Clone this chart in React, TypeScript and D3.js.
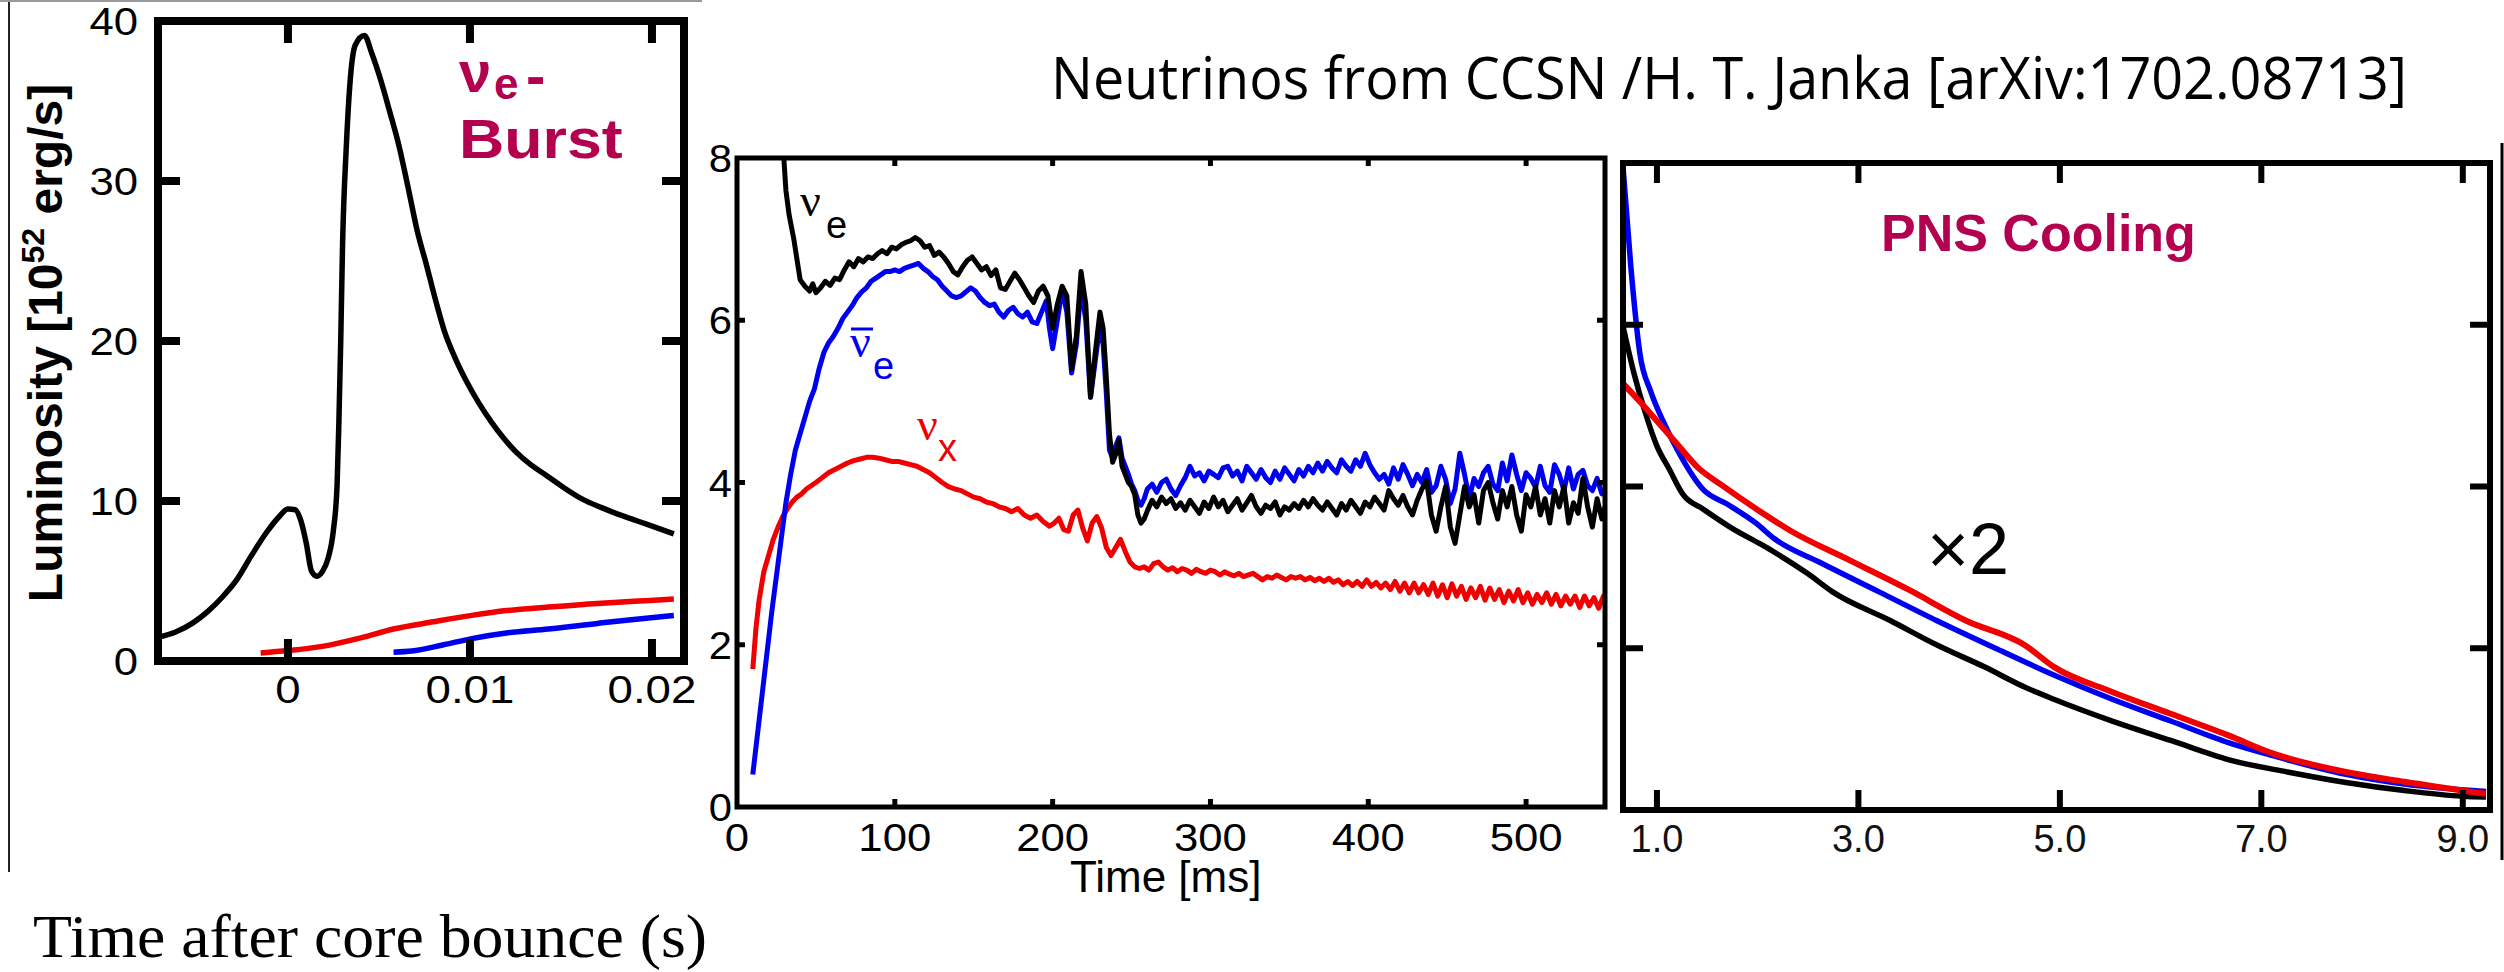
import React from "react";
import * as d3 from "d3";

// ---------- Panel 1: neutronization burst (time in s, luminosity 1e52 erg/s)
const burstNuE: [number, number][] = [
  [-0.0071, 1.5], [-0.0062, 1.8], [-0.0052, 2.4], [-0.0044, 3.1], [-0.0036, 4.0], [-0.0028, 5.1],
  [-0.002, 6.6], [-0.0012, 8.0], [-0.0005, 9.0], [0.0, 9.5], [0.0004, 9.45], [0.0007, 8.8],
  [0.001, 7.4], [0.0013, 5.6], [0.0016, 5.3], [0.0019, 5.6], [0.0022, 6.4], [0.0025, 8.2],
  [0.0027, 11], [0.0028, 15], [0.0029, 20], [0.003, 26], [0.0032, 32], [0.0034, 36],
  [0.0037, 38.5], [0.0042, 39.1], [0.0046, 38.0], [0.0051, 36.3], [0.0056, 34.3], [0.0061, 32.2],
  [0.0066, 29.6], [0.0071, 26.9], [0.0076, 24.8], [0.0081, 22.6], [0.0086, 20.6], [0.0092, 18.9],
  [0.0098, 17.5], [0.0105, 16.1], [0.0112, 14.9], [0.0118, 14.0], [0.0125, 13.1], [0.0133, 12.3],
  [0.0142, 11.6], [0.0152, 10.8], [0.0162, 10.1], [0.0172, 9.6], [0.0182, 9.15], [0.0192, 8.75],
  [0.0202, 8.35], [0.0212, 7.95],
];
const burstNuX: [number, number][] = [
  [-0.0015, 0.5], [0.0, 0.65], [0.0018, 0.9], [0.004, 1.45], [0.0058, 2.0], [0.008, 2.45],
  [0.0101, 2.85], [0.012, 3.15], [0.0143, 3.37], [0.017, 3.6], [0.019, 3.73], [0.0212, 3.87],
];
const burstNuEbar: [number, number][] = [
  [0.0058, 0.55], [0.0068, 0.62], [0.0085, 1.0], [0.0101, 1.4], [0.012, 1.75], [0.0143, 2.0],
  [0.017, 2.35], [0.019, 2.6], [0.0212, 2.85],
];
const p1XTicks = [0, 0.01, 0.02];
const p1XLabels = ["0", "0.01", "0.02"];
const p1YTicks = [0, 10, 20, 30, 40];

// ---------- Panel 2: accretion phase (time in ms)
const accNuE: [number, number][] = [
  [29, 8.2], [31, 7.6], [33, 7.3], [36, 7.0], [38, 6.75], [40, 6.5], [43, 6.42], [46, 6.36], [48, 6.45],
  [50, 6.34], [53, 6.4], [56, 6.48], [59, 6.43], [62, 6.52], [65, 6.5], [68, 6.62], [71, 6.72], [74, 6.66],
  [77, 6.76], [80, 6.72], [83, 6.78], [86, 6.76], [89, 6.82], [92, 6.86], [95, 6.82], [98, 6.9], [101, 6.88],
  [104, 6.93], [107, 6.96], [110, 6.98], [113, 7.02], [116, 6.98], [119, 6.9], [122, 6.92], [125, 6.8],
  [128, 6.84], [131, 6.78], [134, 6.7], [137, 6.6], [140, 6.56], [143, 6.66], [146, 6.74], [149, 6.78],
  [152, 6.7], [155, 6.62], [158, 6.66], [161, 6.55], [164, 6.62], [167, 6.4], [170, 6.38], [173, 6.48],
  [176, 6.58], [179, 6.5], [182, 6.4], [185, 6.3], [188, 6.22], [191, 6.36], [194, 6.42], [197, 6.3],
  [200, 5.9], [203, 6.2], [206, 6.42], [209, 6.3], [212, 5.4], [215, 5.8], [218, 6.6], [221, 6.2],
  [224, 5.05], [227, 5.6], [230, 6.1], [232, 5.9], [234, 5.3], [236, 4.6], [238, 4.25], [240, 4.35],
  [242, 4.52], [244, 4.2], [246, 4.1], [248, 4.0], [250, 3.95], [252, 3.85], [254, 3.6], [256, 3.5],
  [258, 3.55], [260, 3.65], [263, 3.78], [266, 3.7], [269, 3.82], [272, 3.74], [275, 3.8], [278, 3.68],
  [281, 3.75], [284, 3.66], [287, 3.78], [290, 3.7], [293, 3.62], [296, 3.76], [299, 3.68], [302, 3.82],
  [305, 3.7], [308, 3.78], [311, 3.64], [314, 3.72], [317, 3.8], [320, 3.66], [323, 3.75], [326, 3.84],
  [329, 3.7], [332, 3.62], [335, 3.72], [338, 3.68], [341, 3.76], [344, 3.6], [347, 3.7], [350, 3.66],
  [353, 3.74], [356, 3.68], [359, 3.78], [362, 3.7], [365, 3.8], [368, 3.72], [371, 3.66], [374, 3.76],
  [377, 3.68], [380, 3.6], [383, 3.74], [386, 3.66], [389, 3.78], [392, 3.7], [395, 3.62], [398, 3.76],
  [401, 3.7], [404, 3.82], [407, 3.74], [410, 3.66], [413, 3.9], [416, 3.8], [419, 3.72], [422, 3.84],
  [425, 3.7], [428, 3.6], [431, 3.78], [434, 3.92], [437, 4.02], [440, 3.6], [443, 3.4], [446, 3.7],
  [449, 3.95], [452, 3.45], [455, 3.25], [458, 3.6], [461, 3.95], [464, 3.7], [467, 3.85], [470, 3.5],
  [473, 3.9], [476, 4.0], [479, 3.75], [482, 3.55], [485, 3.9], [488, 3.7], [491, 3.95], [494, 3.6],
  [497, 3.4], [500, 3.85], [503, 3.7], [506, 3.95], [509, 3.6], [512, 3.8], [515, 3.5], [518, 3.9],
  [521, 3.7], [524, 3.95], [527, 3.5], [530, 3.75], [533, 3.62], [536, 4.05], [539, 3.7], [542, 3.45],
  [545, 3.8], [548, 3.55], [550, 3.7],
];
const accNuEbar: [number, number][] = [
  [10, 0.4], [13, 0.9], [16, 1.4], [19, 1.9], [22, 2.4], [25, 2.85], [28, 3.3], [31, 3.75], [34, 4.1],
  [37, 4.4], [40, 4.6], [43, 4.8], [46, 5.0], [49, 5.15], [52, 5.4], [55, 5.6], [58, 5.72], [61, 5.8],
  [64, 5.9], [67, 6.02], [70, 6.1], [73, 6.18], [76, 6.28], [79, 6.35], [82, 6.4], [85, 6.48], [88, 6.52],
  [91, 6.56], [94, 6.6], [97, 6.6], [100, 6.62], [103, 6.6], [106, 6.64], [109, 6.66], [112, 6.68],
  [115, 6.7], [118, 6.64], [121, 6.6], [124, 6.54], [127, 6.5], [130, 6.42], [133, 6.36], [136, 6.3],
  [139, 6.28], [142, 6.3], [145, 6.35], [148, 6.4], [151, 6.36], [154, 6.28], [157, 6.22], [160, 6.18],
  [163, 6.2], [166, 6.1], [169, 6.04], [172, 6.12], [175, 6.16], [178, 6.08], [181, 6.04], [184, 6.1],
  [187, 5.98], [190, 5.96], [193, 6.1], [196, 6.24], [198, 5.9], [200, 5.65], [203, 6.0], [206, 6.38],
  [209, 6.1], [212, 5.35], [215, 5.7], [218, 6.4], [221, 6.0], [224, 5.05], [227, 5.5], [230, 5.95],
  [232, 5.7], [234, 5.1], [236, 4.4], [238, 4.3], [240, 4.45], [242, 4.55], [244, 4.3], [246, 4.2],
  [248, 4.1], [250, 3.98], [252, 3.9], [254, 3.78], [256, 3.72], [258, 3.8], [260, 3.92], [263, 3.98],
  [266, 3.88], [269, 4.0], [272, 4.04], [275, 3.92], [278, 3.84], [281, 3.96], [284, 4.06], [287, 4.2],
  [290, 4.08], [293, 4.12], [296, 4.02], [299, 4.14], [302, 4.1], [305, 4.06], [308, 4.18], [311, 4.2],
  [314, 4.08], [317, 4.14], [320, 4.02], [323, 4.2], [326, 4.12], [329, 4.04], [332, 4.16], [335, 4.06],
  [338, 4.0], [341, 4.14], [344, 4.04], [347, 4.18], [350, 4.1], [353, 4.02], [356, 4.16], [359, 4.08],
  [362, 4.2], [365, 4.12], [368, 4.24], [371, 4.14], [374, 4.26], [377, 4.18], [380, 4.12], [383, 4.28],
  [386, 4.2], [389, 4.14], [392, 4.28], [395, 4.2], [398, 4.36], [401, 4.22], [404, 4.12], [407, 4.04],
  [410, 4.1], [413, 3.98], [416, 4.18], [419, 4.04], [422, 4.22], [425, 4.1], [428, 3.96], [431, 4.1],
  [434, 4.0], [437, 4.16], [440, 3.88], [443, 3.96], [446, 4.2], [449, 4.04], [452, 3.74], [455, 3.92],
  [458, 4.36], [461, 4.1], [464, 3.8], [467, 4.05], [470, 3.95], [473, 4.12], [476, 4.2], [479, 3.98],
  [482, 3.9], [485, 4.24], [488, 4.02], [491, 4.34], [494, 4.1], [497, 3.9], [500, 4.12], [503, 4.05],
  [506, 3.94], [509, 4.2], [512, 3.96], [515, 3.88], [518, 4.22], [521, 4.1], [524, 3.9], [527, 4.18],
  [530, 3.92], [533, 4.1], [536, 4.15], [539, 3.96], [542, 3.9], [545, 4.05], [548, 3.86], [550, 3.9],
];
const accNuX: [number, number][] = [
  [10, 1.7], [12, 2.2], [14, 2.55], [17, 2.9], [20, 3.1], [23, 3.3], [26, 3.45], [29, 3.58], [32, 3.68],
  [35, 3.76], [38, 3.82], [41, 3.86], [44, 3.92], [47, 3.96], [50, 4.0], [54, 4.06], [58, 4.12], [62, 4.16],
  [66, 4.2], [70, 4.24], [74, 4.27], [78, 4.29], [82, 4.31], [86, 4.31], [90, 4.3], [94, 4.28], [98, 4.26],
  [102, 4.26], [106, 4.24], [110, 4.22], [114, 4.2], [118, 4.16], [122, 4.12], [126, 4.06], [130, 4.0],
  [134, 3.95], [138, 3.92], [142, 3.9], [146, 3.86], [150, 3.82], [154, 3.8], [158, 3.76], [162, 3.74],
  [166, 3.7], [170, 3.68], [174, 3.64], [178, 3.68], [182, 3.6], [186, 3.56], [190, 3.6], [194, 3.52],
  [198, 3.46], [201, 3.5], [204, 3.56], [207, 3.42], [210, 3.4], [213, 3.6], [216, 3.66], [219, 3.44],
  [222, 3.28], [225, 3.5], [228, 3.58], [231, 3.44], [234, 3.2], [237, 3.1], [240, 3.2], [243, 3.3],
  [246, 3.15], [249, 3.02], [252, 2.96], [255, 2.94], [258, 2.96], [261, 2.92], [264, 3.0], [267, 3.02],
  [270, 2.96], [273, 2.92], [276, 2.95], [279, 2.9], [282, 2.94], [285, 2.92], [288, 2.88], [291, 2.93],
  [294, 2.9], [297, 2.88], [300, 2.92], [303, 2.9], [306, 2.86], [309, 2.9], [312, 2.87], [315, 2.85],
  [318, 2.88], [321, 2.84], [324, 2.86], [327, 2.88], [330, 2.84], [333, 2.8], [336, 2.84], [339, 2.82],
  [342, 2.86], [345, 2.83], [348, 2.8], [351, 2.84], [354, 2.82], [357, 2.84], [360, 2.8], [363, 2.83],
  [366, 2.79], [369, 2.82], [372, 2.78], [375, 2.82], [378, 2.77], [381, 2.8], [384, 2.74], [387, 2.78],
  [390, 2.73], [393, 2.78], [396, 2.72], [399, 2.8], [402, 2.72], [405, 2.77], [408, 2.7], [411, 2.76],
  [414, 2.68], [417, 2.78], [420, 2.66], [423, 2.76], [426, 2.64], [429, 2.76], [432, 2.64], [435, 2.74],
  [438, 2.62], [441, 2.76], [444, 2.6], [447, 2.74], [450, 2.58], [453, 2.75], [456, 2.6], [459, 2.72],
  [462, 2.56], [465, 2.7], [468, 2.58], [471, 2.72], [474, 2.55], [477, 2.7], [480, 2.56], [483, 2.68],
  [486, 2.52], [489, 2.66], [492, 2.54], [495, 2.68], [498, 2.52], [501, 2.64], [504, 2.5], [507, 2.62],
  [510, 2.52], [513, 2.64], [516, 2.5], [519, 2.62], [522, 2.48], [525, 2.6], [528, 2.5], [531, 2.6],
  [534, 2.46], [537, 2.6], [540, 2.48], [543, 2.58], [546, 2.45], [549, 2.6], [550, 2.58],
];
const p2XTicks = [0, 100, 200, 300, 400, 500];
const p2YTicks = [0, 2, 4, 6, 8];

// ---------- Panel 3: PNS cooling (time in s)
const coolNuE: [number, number][] = [
  [0.66, 6.0], [0.77, 5.41], [0.88, 4.93], [1.0, 4.5], [1.12, 4.22], [1.26, 3.9], [1.46, 3.72],
  [1.75, 3.48], [2.04, 3.28], [2.5, 2.92], [2.74, 2.7], [3.32, 2.34], [3.78, 2.04], [4.25, 1.77],
  [4.65, 1.52], [4.94, 1.37], [5.52, 1.1], [6.1, 0.86], [6.68, 0.62], [7.26, 0.47], [7.84, 0.34],
  [8.42, 0.24], [9.0, 0.17], [9.23, 0.16],
];
const coolNuEbar: [number, number][] = [
  [0.66, 8.0], [0.74, 6.73], [0.83, 5.65], [0.94, 5.17], [1.06, 4.81], [1.23, 4.39], [1.46, 3.96],
  [1.7, 3.78], [1.99, 3.54], [2.16, 3.36], [2.62, 3.06], [3.2, 2.7], [3.78, 2.34], [4.36, 2.0],
  [4.94, 1.67], [5.52, 1.37], [6.1, 1.1], [6.68, 0.83], [7.09, 0.68], [7.84, 0.44], [8.42, 0.32],
  [9.23, 0.23],
];
const coolNuX: [number, number][] = [
  [0.65, 5.29], [0.83, 5.05], [1.0, 4.81], [1.17, 4.57], [1.41, 4.23], [1.64, 4.02], [1.99, 3.72],
  [2.33, 3.45], [2.91, 3.09], [3.49, 2.73], [4.07, 2.34], [4.65, 2.04], [4.94, 1.77], [5.52, 1.46],
  [6.1, 1.19], [6.68, 0.92], [7.09, 0.71], [7.84, 0.47], [8.42, 0.35], [9.23, 0.2],
];
const p3XTicks = [1, 3, 5, 7, 9];
const p3XLabels = ["1.0", "3.0", "5.0", "7.0", "9.0"];
const p3YTicks = [0, 2, 4, 6, 8];

const TITLE = "Neutrinos from CCSN /H. T. Janka [arXiv:1702.08713]";
const XTITLE = "Time after core bounce (s)";

const SANS = "'Liberation Sans', Arial, sans-serif";
const SERIF = "'Liberation Serif', 'Times New Roman', serif";
const CRIMSON = "#b3004f";
const BLUE = "#0000f0";
const RED = "#f00000";

type Pt = [number, number];

function Frame({ x0, x1, y0, y1, sw }: { x0: number; x1: number; y0: number; y1: number; sw: number }) {
  return <rect x={x0} y={y0} width={x1 - x0} height={y1 - y0} fill="none" stroke="#000" strokeWidth={sw} />;
}

export default function App() {
  // panel 1
  const x1 = d3.scaleLinear().domain([-0.00714, 0.02176]).range([158, 684]);
  const y1 = d3.scaleLinear().domain([0, 40]).range([661, 21]);
  const line1 = d3.line<Pt>().x((d) => x1(d[0])).y((d) => y1(d[1])).curve(d3.curveMonotoneX);

  // panel 2
  const x2 = d3.scaleLinear().domain([0, 550]).range([737, 1605]);
  const y2 = d3.scaleLinear().domain([0, 8]).range([807, 158]);
  const line2 = d3.line<Pt>().x((d) => x2(d[0])).y((d) => y2(d[1]));

  // panel 3
  const x3 = d3.scaleLinear().domain([0.663, 9.27]).range([1623, 2490]);
  const y3 = d3.scaleLinear().domain([0, 8]).range([810, 163]);
  const line3 = d3.line<Pt>().x((d) => x3(d[0])).y((d) => y3(d[1])).curve(d3.curveMonotoneX);

  const [p1x0, p1x1] = x1.range();
  const [p1y0, p1y1] = [y1.range()[1], y1.range()[0]];
  const [p2x0, p2x1] = x2.range();
  const [p2y0, p2y1] = [y2.range()[1], y2.range()[0]];
  const [p3x0, p3x1] = x3.range();
  const [p3y0, p3y1] = [y3.range()[1], y3.range()[0]];

  return (
    <svg
      width={2504}
      height={972}
      viewBox="0 0 2504 972"
      style={{ position: "absolute", left: 0, top: 0, background: "#fff" }}
      fontFamily={SANS}
    >
      <defs>
        <clipPath id="c1"><rect x={p1x0} y={p1y0} width={p1x1 - p1x0} height={p1y1 - p1y0} /></clipPath>
        <clipPath id="c2"><rect x={p2x0} y={p2y0} width={p2x1 - p2x0} height={p2y1 - p2y0} /></clipPath>
        <clipPath id="c3"><rect x={p3x0} y={p3y0} width={p3x1 - p3x0} height={p3y1 - p3y0} /></clipPath>
      </defs>
      <rect x={0} y={0} width={2504} height={972} fill="#fff" />

      {/* thin image borders */}
      <line x1={9} x2={9} y1={0} y2={872} stroke="#222" strokeWidth={2} />
      <line x1={0} x2={702} y1={1} y2={1} stroke="#999" strokeWidth={2} />
      <line x1={2502} x2={2502} y1={143} y2={860} stroke="#000" strokeWidth={3} />

      {/* title */}
      <text x={1051} y={99} fontFamily="'Open Sans', 'Noto Sans', sans-serif" fontSize={58}
        textLength={1356} lengthAdjust="spacingAndGlyphs" fill="#000">{TITLE}</text>

      {/* ================= Panel 1 ================= */}
      <g clipPath="url(#c1)" fill="none" strokeLinejoin="round">
        <path d={line1(burstNuE) || ""} stroke="#000" strokeWidth={5.5} />
        <path d={line1(burstNuX) || ""} stroke={RED} strokeWidth={5.5} />
        <path d={line1(burstNuEbar) || ""} stroke={BLUE} strokeWidth={5.5} />
      </g>
      <Frame x0={p1x0} x1={p1x1} y0={p1y0} y1={p1y1} sw={8} />
      {p1XTicks.map((t) => (
        <g key={"p1x" + t}>
          <line x1={x1(t)} x2={x1(t)} y1={p1y1} y2={p1y1 - 22} stroke="#000" strokeWidth={8} />
          <line x1={x1(t)} x2={x1(t)} y1={p1y0} y2={p1y0 + 22} stroke="#000" strokeWidth={8} />
        </g>
      ))}
      {p1YTicks.map((t) => (
        <g key={"p1y" + t}>
          <line x1={p1x0} x2={p1x0 + 22} y1={y1(t)} y2={y1(t)} stroke="#000" strokeWidth={8} />
          <line x1={p1x1} x2={p1x1 - 22} y1={y1(t)} y2={y1(t)} stroke="#000" strokeWidth={8} />
        </g>
      ))}
      {p1YTicks.map((t) => (
        <text key={"p1yl" + t} transform={`translate(138,${y1(t) + 14}) scale(1.15,1)`}
          textAnchor="end" fontSize={38}>{String(t)}</text>
      ))}
      {p1XTicks.map((t, i) => (
        <text key={"p1xl" + t} transform={`translate(${x1(t)},703) scale(1.2,1)`}
          textAnchor="middle" fontSize={38}>{p1XLabels[i]}</text>
      ))}
      <text transform="translate(62,343) rotate(-90)" textAnchor="middle" fontSize={48} fontWeight="bold">
        Luminosity [10<tspan fontSize={32} dy={-18}>52</tspan><tspan dy={18} fontSize={48}> erg/s]</tspan>
      </text>
      {/* nu_e burst annotation */}
      <g fill={CRIMSON} fontWeight="bold">
        <text x={459} y={92} fontSize={58}>ν</text>
        <text x={494} y={99} fontSize={44}>e</text>
        <text x={526} y={96} fontSize={58}>-</text>
        <text transform="translate(459,158) scale(1.12,1)" fontSize={56}>Burst</text>
      </g>

      {/* ================= Panel 2 ================= */}
      <g clipPath="url(#c2)" fill="none" strokeLinejoin="round">
        <path d={line2(accNuX) || ""} stroke={RED} strokeWidth={5} />
        <path d={line2(accNuEbar) || ""} stroke={BLUE} strokeWidth={5} />
        <path d={line2(accNuE) || ""} stroke="#000" strokeWidth={5} />
      </g>
      <Frame x0={p2x0} x1={p2x1} y0={p2y0} y1={p2y1} sw={5} />
      {p2XTicks.slice(1).map((t) => (
        <g key={"p2x" + t}>
          <line x1={x2(t)} x2={x2(t)} y1={p2y1} y2={p2y1 - 8} stroke="#000" strokeWidth={5} />
          <line x1={x2(t)} x2={x2(t)} y1={p2y0} y2={p2y0 + 8} stroke="#000" strokeWidth={5} />
        </g>
      ))}
      {p2YTicks.slice(1, -1).map((t) => (
        <g key={"p2y" + t}>
          <line x1={p2x0} x2={p2x0 + 8} y1={y2(t)} y2={y2(t)} stroke="#000" strokeWidth={5} />
          <line x1={p2x1} x2={p2x1 - 8} y1={y2(t)} y2={y2(t)} stroke="#000" strokeWidth={5} />
        </g>
      ))}
      {p2YTicks.map((t) => (
        <text key={"p2yl" + t} transform={`translate(732,${y2(t) + 14}) scale(1.1,1)`}
          textAnchor="end" fontSize={38}>{String(t)}</text>
      ))}
      {p2XTicks.map((t) => (
        <text key={"p2xl" + t} transform={`translate(${x2(t)},851) scale(1.15,1)`}
          textAnchor="middle" fontSize={38}>{String(t)}</text>
      ))}
      <text x={1070} y={892} fontSize={44}>Time [ms]</text>
      <text x={800} y={216} fontFamily={SERIF} fontSize={46} fill="#000">ν</text>
      <text x={826} y={238} fontSize={38} fill="#000">e</text>
      <text x={850} y={357} fontFamily={SERIF} fontSize={46} fill={BLUE}>ν</text>
      <line x1={851} x2={873} y1={329} y2={329} stroke={BLUE} strokeWidth={3} />
      <text x={873} y={379} fontSize={38} fill={BLUE}>e</text>
      <text x={917} y={440} fontFamily={SERIF} fontSize={46} fill={RED}>ν</text>
      <text x={938} y={461} fontSize={38} fill={RED}>x</text>

      {/* ================= Panel 3 ================= */}
      <g clipPath="url(#c3)" fill="none" strokeLinejoin="round">
        <path d={line3(coolNuE) || ""} stroke="#000" strokeWidth={5.5} />
        <path d={line3(coolNuEbar) || ""} stroke={BLUE} strokeWidth={5.5} />
        <path d={line3(coolNuX) || ""} stroke={RED} strokeWidth={6} />
      </g>
      <Frame x0={p3x0} x1={p3x1} y0={p3y0} y1={p3y1} sw={6} />
      {p3XTicks.map((t) => (
        <g key={"p3x" + t}>
          <line x1={x3(t)} x2={x3(t)} y1={p3y1} y2={p3y1 - 20} stroke="#000" strokeWidth={6} />
          <line x1={x3(t)} x2={x3(t)} y1={p3y0} y2={p3y0 + 20} stroke="#000" strokeWidth={6} />
        </g>
      ))}
      {p3YTicks.slice(1, -1).map((t) => (
        <g key={"p3y" + t}>
          <line x1={p3x0} x2={p3x0 + 20} y1={y3(t)} y2={y3(t)} stroke="#000" strokeWidth={6} />
          <line x1={p3x1} x2={p3x1 - 20} y1={y3(t)} y2={y3(t)} stroke="#000" strokeWidth={6} />
        </g>
      ))}
      {p3XTicks.map((t, i) => (
        <text key={"p3xl" + t} x={x3(t)} y={852} textAnchor="middle" fontSize={38} fill="#111">{p3XLabels[i]}</text>
      ))}
      <text x={1881} y={251} fontSize={52} fontWeight="bold" fill={CRIMSON}>PNS Cooling</text>
      <text x={1927} y={574} fontSize={72} fill="#000">×2</text>

      {/* bottom common axis title */}
      <text x={33} y={957} fontFamily={SERIF} fontSize={62} textLength={674} lengthAdjust="spacingAndGlyphs">{XTITLE}</text>
    </svg>
  );
}
